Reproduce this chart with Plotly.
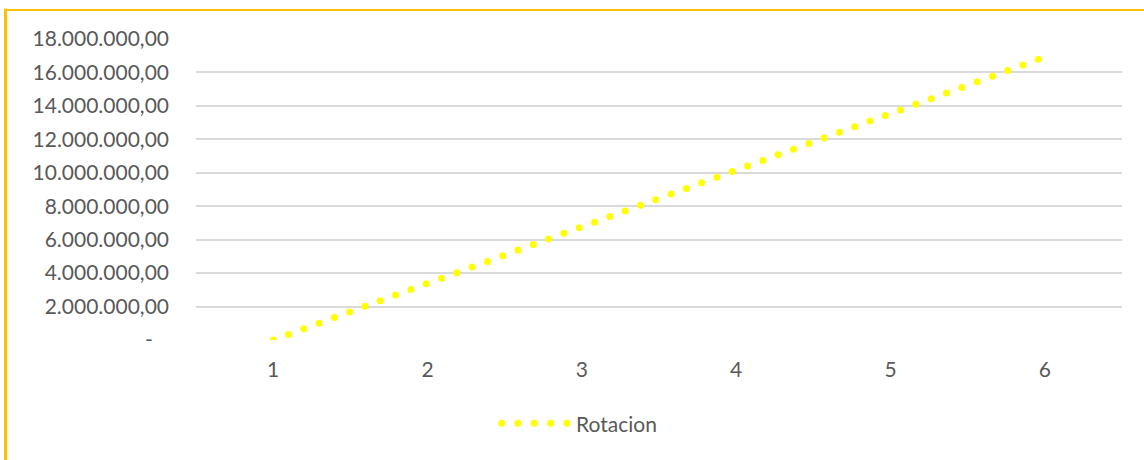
import plotly.graph_objects as go

# Series data
categories = [1, 2, 3, 4, 5, 6]
rotacion = [0, 3385000, 6770000, 10155000, 13540000, 16925000]
series_name = "Rotacion"

# Value axis ticks (Excel accounting-style labels, zero shown as a dash
# padded on the right like the accounting format does)
y_tick_values = [0, 2000000, 4000000, 6000000, 8000000, 10000000,
                 12000000, 14000000, 16000000, 18000000]
y_tick_labels = ["-\u00a0\u00a0\u00a0", "2.000.000,00", "4.000.000,00",
                 "6.000.000,00", "8.000.000,00", "10.000.000,00",
                 "12.000.000,00", "14.000.000,00", "16.000.000,00",
                 "18.000.000,00"]
x_tick_labels = ["1", "2", "3", "4", "5", "6"]

# Page geometry (pixels)
W, H = 1144, 460
L, R, T, B = 196, 22, 39, 120
PW, PH = W - L - R, H - T - B

TEXT = "#595959"
GRID = "#d9d9d9"
YELLOW = "#FFFF00"
GOLD = "#FFC000"
FONT = "Lato, 'Open Sans', sans-serif"
FS = 21
DOTS = "0px,16.3px"


def px_x(p):
    return (p - L) / PW


def px_y(p):
    return (H - B - p) / PH


fig = go.Figure()
fig.add_trace(go.Scatter(
    x=categories,
    y=rotacion,
    mode="lines",
    name=series_name,
    line=dict(color=YELLOW, width=7, dash=DOTS),
    showlegend=False,
    hoverinfo="x+y",
))

shapes = [
    # chart-area border (left and top edges)
    dict(type="line", xref="paper", yref="paper",
         x0=px_x(5.5), x1=px_x(5.5), y0=px_y(8.5), y1=px_y(480),
         line=dict(color=GOLD, width=3)),
    dict(type="line", xref="paper", yref="paper",
         x0=px_x(4), x1=px_x(1160), y0=px_y(10), y1=px_y(10),
         line=dict(color=GOLD, width=2)),
    # legend sample
    dict(type="line", xref="paper", yref="paper",
         x0=px_x(501.7), x1=px_x(567.5), y0=px_y(423.3), y1=px_y(423.3),
         line=dict(color=YELLOW, width=7, dash=DOTS)),
]

annotations = [
    dict(text=series_name, xref="paper", yref="paper",
         x=px_x(574), y=px_y(423.5), xanchor="left", yanchor="middle",
         showarrow=False, font=dict(family=FONT, size=FS, color=TEXT)),
]

fig.update_layout(
    width=W, height=H,
    margin=dict(l=L, r=R, t=T, b=B, pad=0),
    paper_bgcolor="white",
    plot_bgcolor="white",
    showlegend=False,
    font=dict(family=FONT, size=FS, color=TEXT),
    shapes=shapes,
    annotations=annotations,
    xaxis=dict(
        range=[0.5, 6.5],
        tickvals=categories,
        ticktext=x_tick_labels,
        showgrid=False,
        zeroline=False,
        showline=False,
        ticks="",
        ticklabelstandoff=15,
        tickfont=dict(family=FONT, size=FS, color=TEXT),
        fixedrange=True,
    ),
    yaxis=dict(
        range=[0, 18000000],
        tickvals=y_tick_values,
        ticktext=y_tick_labels,
        showgrid=True,
        gridcolor=GRID,
        gridwidth=1.5,
        zeroline=False,
        showline=False,
        ticks="",
        ticklabelstandoff=26,
        tickfont=dict(family=FONT, size=FS, color=TEXT),
        fixedrange=True,
    ),
)

# Round line caps turn the zero-length dashes into round dots
round_caps = """
var gd = document.getElementById('{plot_id}');
function roundCaps() {
  gd.querySelectorAll('path').forEach(function (p) {
    var d = p.style.strokeDasharray || '';
    if (d.trim().charAt(0) === '0') { p.style.strokeLinecap = 'round'; }
  });
}
roundCaps();
gd.on('plotly_afterplot', roundCaps);
"""

fig.write_html("out.html", post_script=round_caps)
